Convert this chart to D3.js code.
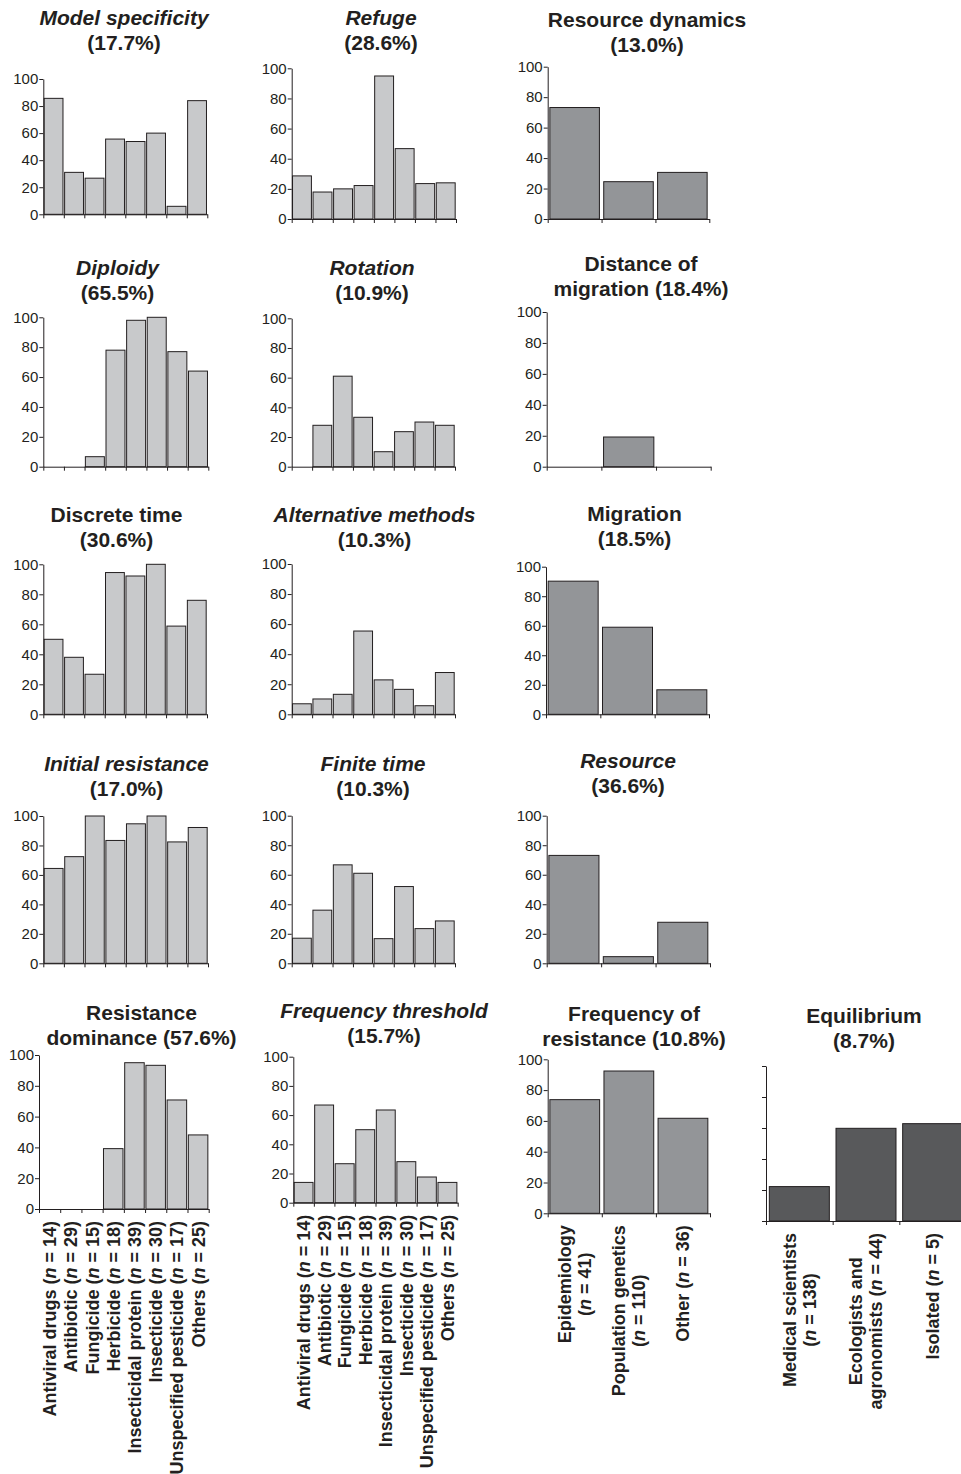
<!DOCTYPE html>
<html>
<head>
<meta charset="utf-8">
<script src="https://cdn.jsdelivr.net/npm/d3@7"></script>
<style>
  body { margin: 0; background: #fff; }
  svg { display: block; }
</style>
</head>
<body>
<svg id="fig" width="961" height="1474"></svg>
<script>
// ---- Category labels ----
const agentLabels = [
  "Antiviral drugs (n = 14)", "Antibiotic (n = 29)", "Fungicide (n = 15)", "Herbicide (n = 18)",
  "Insecticidal protein (n = 39)", "Insecticide (n = 30)", "Unspecified pesticide (n = 17)", "Others (n = 25)"
];
const fieldLabels = [["Epidemiology", "(n = 41)"], ["Population genetics", "(n = 110)"], ["Other (n = 36)"]];
const authorLabels = [["Medical scientists", "(n = 138)"], ["Ecologists and", "agronomists (n = 44)"], ["Isolated (n = 5)"]];
const yTicks = [0, 20, 40, 60, 80, 100];

// ---- Percentage of models with each feature, per category ----
const modelSpecificity      = [85.7, 31.0, 26.7, 55.6, 53.8, 60.0, 5.9, 84.0];
const refuge                = [28.6, 17.9, 20.0, 22.2, 94.9, 46.7, 23.5, 24.0];
const resourceDynamics      = [73.2, 24.5, 30.6];
const diploidy              = [0, 0, 6.7, 78.0, 98.0, 100, 77.0, 64.0];
const rotation              = [0, 27.9, 61.0, 33.3, 10.1, 23.6, 30.1, 27.9];
const distanceOfMigration   = [0, 19.2, 0];
const discreteTime          = [50.0, 38.0, 26.7, 94.5, 92.2, 100, 58.8, 76.0];
const alternativeMethods    = [7.0, 10.2, 13.3, 55.4, 22.9, 16.6, 5.7, 27.8];
const migration             = [90.2, 59.0, 16.6];
const initialResistance     = [64.4, 72.4, 100, 83.4, 94.7, 100, 82.4, 92.2];
const finiteTime            = [17.0, 36.0, 66.7, 61.0, 16.7, 52.0, 23.5, 28.7];
const resource              = [73.1, 4.5, 27.8];
const resistanceDominance   = [0, 0, 0, 39.2, 95.0, 93.3, 70.8, 48.1];
const frequencyThreshold    = [13.9, 66.9, 26.7, 50.0, 63.5, 28.1, 17.6, 13.9];
const frequencyOfResistance = [73.8, 92.4, 61.7];
const equilibrium           = [22.2, 59.8, 62.8];

// ---- Styles ----
const FONT = '"Liberation Sans", Arial, Helvetica, sans-serif';
const INK = "#231f20";
const FILL_AGENT = "#c8c9cb";
const FILL_FIELD = "#939598";
const FILL_AUTHOR = "#58595b";

// ---- Panel layout ----
const panels = [
  { title: ["Model specificity", "(17.7%)"], italic: true, values: modelSpecificity, fill: FILL_AGENT, x0: 43.3, x1: 207.3, y100: 79, y0: 214.3, tx: 124, ty: 25 },
  { title: ["Refuge", "(28.6%)"], italic: true, values: refuge, fill: FILL_AGENT, x0: 291.7, x1: 456, y100: 68.3, y0: 219, tx: 381, ty: 25 },
  { title: ["Resource dynamics", "(13.0%)"], italic: false, values: resourceDynamics, fill: FILL_FIELD, x0: 547.7, x1: 709.3, y100: 66.7, y0: 219, tx: 647, ty: 26.5 },

  { title: ["Diploidy", "(65.5%)"], italic: true, values: diploidy, fill: FILL_AGENT, x0: 43.3, x1: 208.3, y100: 317.3, y0: 466.7, tx: 117.5, ty: 275 },
  { title: ["Rotation", "(10.9%)"], italic: true, values: rotation, fill: FILL_AGENT, x0: 291.7, x1: 455, y100: 318.3, y0: 466.7, tx: 372, ty: 275 },
  { title: ["Distance of", "migration (18.4%)"], italic: false, values: distanceOfMigration, fill: FILL_FIELD, x0: 546.7, x1: 710.7, y100: 312, y0: 466.7, tx: 641, ty: 270.7 },

  { title: ["Discrete time", "(30.6%)"], italic: false, values: discreteTime, fill: FILL_AGENT, x0: 43.3, x1: 207, y100: 564.3, y0: 714.3, tx: 116.5, ty: 521.7 },
  { title: ["Alternative methods", "(10.3%)"], italic: true, values: alternativeMethods, fill: FILL_AGENT, x0: 291.7, x1: 455, y100: 564, y0: 714.3, tx: 374.5, ty: 521.7 },
  { title: ["Migration", "(18.5%)"], italic: false, values: migration, fill: FILL_FIELD, x0: 546, x1: 709, y100: 566.7, y0: 714.3, tx: 634.5, ty: 520.7 },

  { title: ["Initial resistance", "(17.0%)"], italic: true, values: initialResistance, fill: FILL_AGENT, x0: 43.3, x1: 208, y100: 816, y0: 963.3, tx: 126.5, ty: 770.7 },
  { title: ["Finite time", "(10.3%)"], italic: true, values: finiteTime, fill: FILL_AGENT, x0: 291.7, x1: 455, y100: 815.7, y0: 963.3, tx: 373, ty: 770.7 },
  { title: ["Resource", "(36.6%)"], italic: true, values: resource, fill: FILL_FIELD, x0: 546.7, x1: 710, y100: 815.7, y0: 963.3, tx: 628, ty: 768.3 },

  { title: ["Resistance", "dominance (57.6%)"], italic: false, values: resistanceDominance, fill: FILL_AGENT, x0: 39, x1: 208.7, y100: 1055, y0: 1209, tx: 141.5, ty: 1020, labels: agentLabels },
  { title: ["Frequency threshold", "(15.7%)"], italic: true, values: frequencyThreshold, fill: FILL_AGENT, x0: 293.3, x1: 457.7, y100: 1056.7, y0: 1202.7, tx: 384, ty: 1018, labels: agentLabels },
  { title: ["Frequency of", "resistance (10.8%)"], italic: false, values: frequencyOfResistance, fill: FILL_FIELD, x0: 547.7, x1: 710, y100: 1059.3, y0: 1213.3, tx: 634, ty: 1020.7, labels: fieldLabels },
  { title: ["Equilibrium", "(8.7%)"], italic: false, values: equilibrium, fill: FILL_AUTHOR, x0: 766, x1: 966, y100: 1066, y0: 1221, tx: 864, ty: 1023, labels: authorLabels, pad: 0.1, noYLabels: true }
];

const svg = d3.select("#fig");

// Writes a label line, setting the sample-size symbol "n" in italics
function richText(textSel, line) {
  const parts = line.split("(n =");
  if (parts.length === 2) {
    textSel.append("tspan").text(parts[0] + "(");
    textSel.append("tspan").attr("font-style", "italic").text("n");
    textSel.append("tspan").text(" =" + parts[1]);
  } else {
    textSel.append("tspan").text(line);
  }
}

function drawPanel(p) {
  const g = svg.append("g");
  const n = p.values.length;
  const pad = p.pad ?? 0.08;

  const x = d3.scaleBand().domain(d3.range(n)).range([p.x0, p.x1]).paddingInner(pad).paddingOuter(pad / 2);
  const xEdge = d3.scaleLinear().domain([0, n]).range([p.x0, p.x1]);
  const y = d3.scaleLinear().domain([0, 100]).range([p.y0, p.y100]);

  // bars
  g.append("g").selectAll("rect")
    .data(p.values.map((v, i) => ({ v, i })).filter(d => d.v > 0))
    .join("rect")
    .attr("x", d => x(d.i))
    .attr("width", x.bandwidth())
    .attr("y", d => y(d.v))
    .attr("height", d => y(0) - y(d.v))
    .attr("fill", p.fill)
    .attr("stroke", INK)
    .attr("stroke-width", 1);

  // x axis: ticks on category boundaries
  g.append("g")
    .attr("transform", `translate(0,${p.y0})`)
    .call(d3.axisBottom(xEdge).tickValues(d3.range(n + 1)).tickSize(4).tickSizeOuter(0).tickFormat(""))
    .attr("color", INK);

  // y axis
  const yAxis = g.append("g")
    .attr("transform", `translate(${p.x0},0)`)
    .call(d3.axisLeft(y).tickValues(yTicks).tickSize(4).tickPadding(1).tickSizeOuter(0)
      .tickFormat(p.noYLabels ? "" : d3.format("d")))
    .attr("color", INK)
    .attr("font-family", FONT)
    .attr("font-size", 15);
  yAxis.selectAll("text").attr("fill", INK);

  // title
  const t = g.append("g").attr("font-family", FONT).attr("font-weight", "bold").attr("font-size", 21).attr("fill", INK);
  p.title.forEach((line, k) => {
    t.append("text")
      .attr("x", p.tx)
      .attr("y", p.ty + k * 25)
      .attr("text-anchor", "middle")
      .attr("font-style", p.italic && k === 0 ? "italic" : "normal")
      .text(line);
  });

  // rotated category labels
  if (p.labels) {
    const LH = 20;
    const lab = g.append("g").attr("font-family", FONT).attr("font-weight", "bold").attr("font-size", 18).attr("fill", INK);
    p.labels.forEach((entry, i) => {
      const lines = Array.isArray(entry) ? entry : [entry];
      const cx = xEdge(i + 0.5);
      const lg = lab.append("g").attr("transform", `translate(${cx},${p.y0 + 12}) rotate(-90)`);
      const texts = lines.map((line, k) => {
        const tx = lg.append("text")
          .attr("text-anchor", "middle")
          .attr("y", (k - (lines.length - 1) / 2) * LH)
          .attr("dy", "0.36em");
        richText(tx, line);
        return tx;
      });
      const w = d3.max(texts, s => s.node().getComputedTextLength());
      texts.forEach(s => s.attr("x", -w / 2));
    });
  }
}

panels.forEach(drawPanel);
</script>
</body>
</html>
